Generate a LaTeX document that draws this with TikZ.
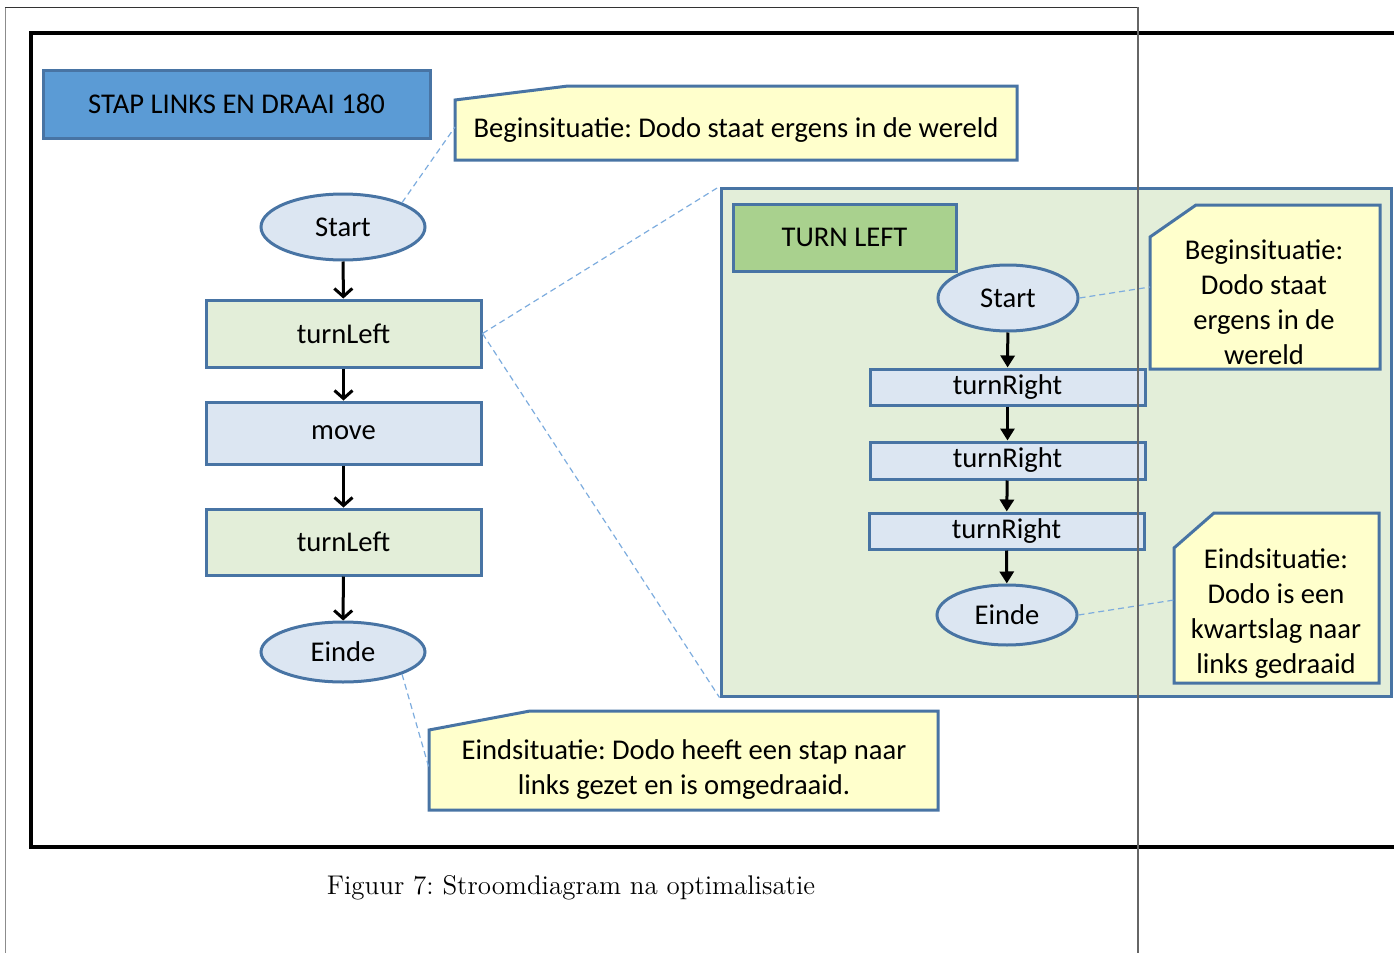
\documentclass[tikz,border=0pt]{standalone}
\usepackage{fontspec}
\newfontfamily\calfont{Carlito}
\usetikzlibrary{calc,arrows.meta,shapes.geometric}
\definecolor{rimblue}{RGB}{72,116,164}
\definecolor{titleblue}{RGB}{91,155,213}
\definecolor{paleblue}{RGB}{220,230,242}
\definecolor{palegreen}{RGB}{227,238,217}
\definecolor{leafgreen}{RGB}{169,209,142}
\definecolor{noteyellow}{RGB}{255,255,204}
\definecolor{pinblue}{RGB}{125,172,222}
\frenchspacing

\begin{document}
\begin{tikzpicture}[x=0.5pt,y=-0.5pt,
	txt/.style={font=\calfont\fontsize{14.3}{17.5}\selectfont},
	block/.style={txt,draw=rimblue,line width=1.5pt,inner sep=0pt},
	term/.style={block,ellipse,fill=paleblue},
	note/.style={draw=rimblue,line width=1.5pt,fill=noteyellow,line join=miter},
	pin/.style={pinblue,dashed,line width=0.6pt,dash pattern=on 3pt off 2pt},
	flow/.style={line width=1.5pt,-{Straight Barb[length=4pt,width=9pt,line width=1.5pt]}},
	flowin/.style={line width=1.5pt,-{Triangle[length=6pt,width=7pt]}}]
			%%%%% START %%%%%
			\useasboundingbox (0,0) rectangle (1394,953);
			
			\draw[line width=0.5pt, color=black!45] (5,953) -- (5,7);
			\draw[line width=0.5pt, color=black!80] (5,7) -- (1138,7);
			\draw[line width=1.8pt] (1394,33) -- (31,33) -- (31,847) -- (1394,847);
			
			% linker stroomdiagram
			\node[block, fill=titleblue, minimum width=193.5pt, minimum height=34pt] (title) at (236.5,104) {STAP LINKS EN DRAAI 180};
			
			\node[term, minimum width=82pt, minimum height=33pt] (start1) at (343,227) {Start};
			\node[block, fill=palegreen, minimum width=137.5pt, minimum height=33.5pt] (left1) at (343.5,333.5) {turnLeft};
			\node[block, fill=paleblue, minimum width=137.5pt, minimum height=31pt] (move) at (343.5,433) {move};
			\node[block, fill=palegreen, minimum width=137.5pt, minimum height=33pt] (left2) at (343.5,542) {turnLeft};
			\node[term, minimum width=82pt, minimum height=30pt] (end1) at (343,652) {Einde};
			
			\draw[flow] (start1) -- (left1);
			\draw[flow] (left1) -- (move);
			\draw[flow] (move) -- (left2);
			\draw[flow] (left2) -- (end1);
			
			\draw[note] (455,100) -- (568,86) -- (1017,86) -- (1017,160) -- (455,160) -- cycle;
			\node[txt] (beginA) at (736,130) {Beginsituatie: Dodo staat ergens in de wereld};
			\coordinate (beginApin) at (455,127);
			\draw[pin] (start1.north east) -- (beginApin);
			
			\draw[note] (429,730) -- (530,711) -- (938,711) -- (938,810) -- (429,810) -- cycle;
			\node[txt, align=center] (endA) at (684,770) {Eindsituatie: Dodo heeft een stap naar\\links gezet en is omgedraaid.};
			\coordinate (endApin) at (429,768);
			\draw[pin] (end1.south east) -- (endApin);
			
			% uitwerking van turnLeft
			\node[draw=rimblue, line width=1.5pt, fill=palegreen, minimum width=335pt, minimum height=254pt] (panel) at (1056,442) {};
			\draw[pin] (left1.east) -- (panel.north west);
			\draw[pin] (left1.east) -- (panel.south west);
			
			\node[block, fill=leafgreen, minimum width=111.5pt, minimum height=33.5pt] (title2) at (844.5,237.5) {TURN LEFT};
			
			\node[term, minimum width=70pt, minimum height=33pt] (start2) at (1008,298) {Start};
			\node[block, fill=paleblue, minimum width=137.5pt, minimum height=18pt] (right1) at (1007.5,387) {turnRight};
			\node[block, fill=paleblue, minimum width=137.5pt, minimum height=18.5pt] (right2) at (1007.5,460.5) {turnRight};
			\node[block, fill=paleblue, minimum width=137.5pt, minimum height=18pt] (right3) at (1006.5,531) {turnRight};
			\node[term, minimum width=70pt, minimum height=30pt] (end2) at (1007,615) {Einde};
			
			\draw[flowin] (start2) -- (right1);
			\draw[flowin] (right1) -- (right2);
			\draw[flowin] (right2) -- (right3);
			\draw[flowin] (right3) -- (end2);
			
			\draw[note] (1150,237) -- (1196,205) -- (1380,205) -- (1380,369) -- (1150,369) -- cycle;
			\node[txt, align=center] (beginB) at (1264,302) {Beginsituatie:\\Dodo staat\\ergens in de\\wereld};
			\coordinate (beginBpin) at (1150,287);
			\draw[pin] (start2.east) -- (beginBpin);
			
			\draw[note] (1174,548) -- (1214,513) -- (1379,513) -- (1379,683) -- (1174,683) -- cycle;
			\node[txt, align=center] (endB) at (1276,614) {Eindsituatie:\\Dodo is een\\kwartslag naar\\links gedraaid};
			\coordinate (endBpin) at (1174,600);
			\draw[pin] (end2.east) -- (endBpin);
			
			\node[font=\fontsize{13.5}{16}\selectfont] (caption) at (571,888) {Figuur 7: Stroomdiagram na optimalisatie};
			
			\draw[line width=0.8pt, color=black!60] (1138,7) -- (1138,953);
			%%%%% END %%%%%
\end{tikzpicture}
\end{document}
